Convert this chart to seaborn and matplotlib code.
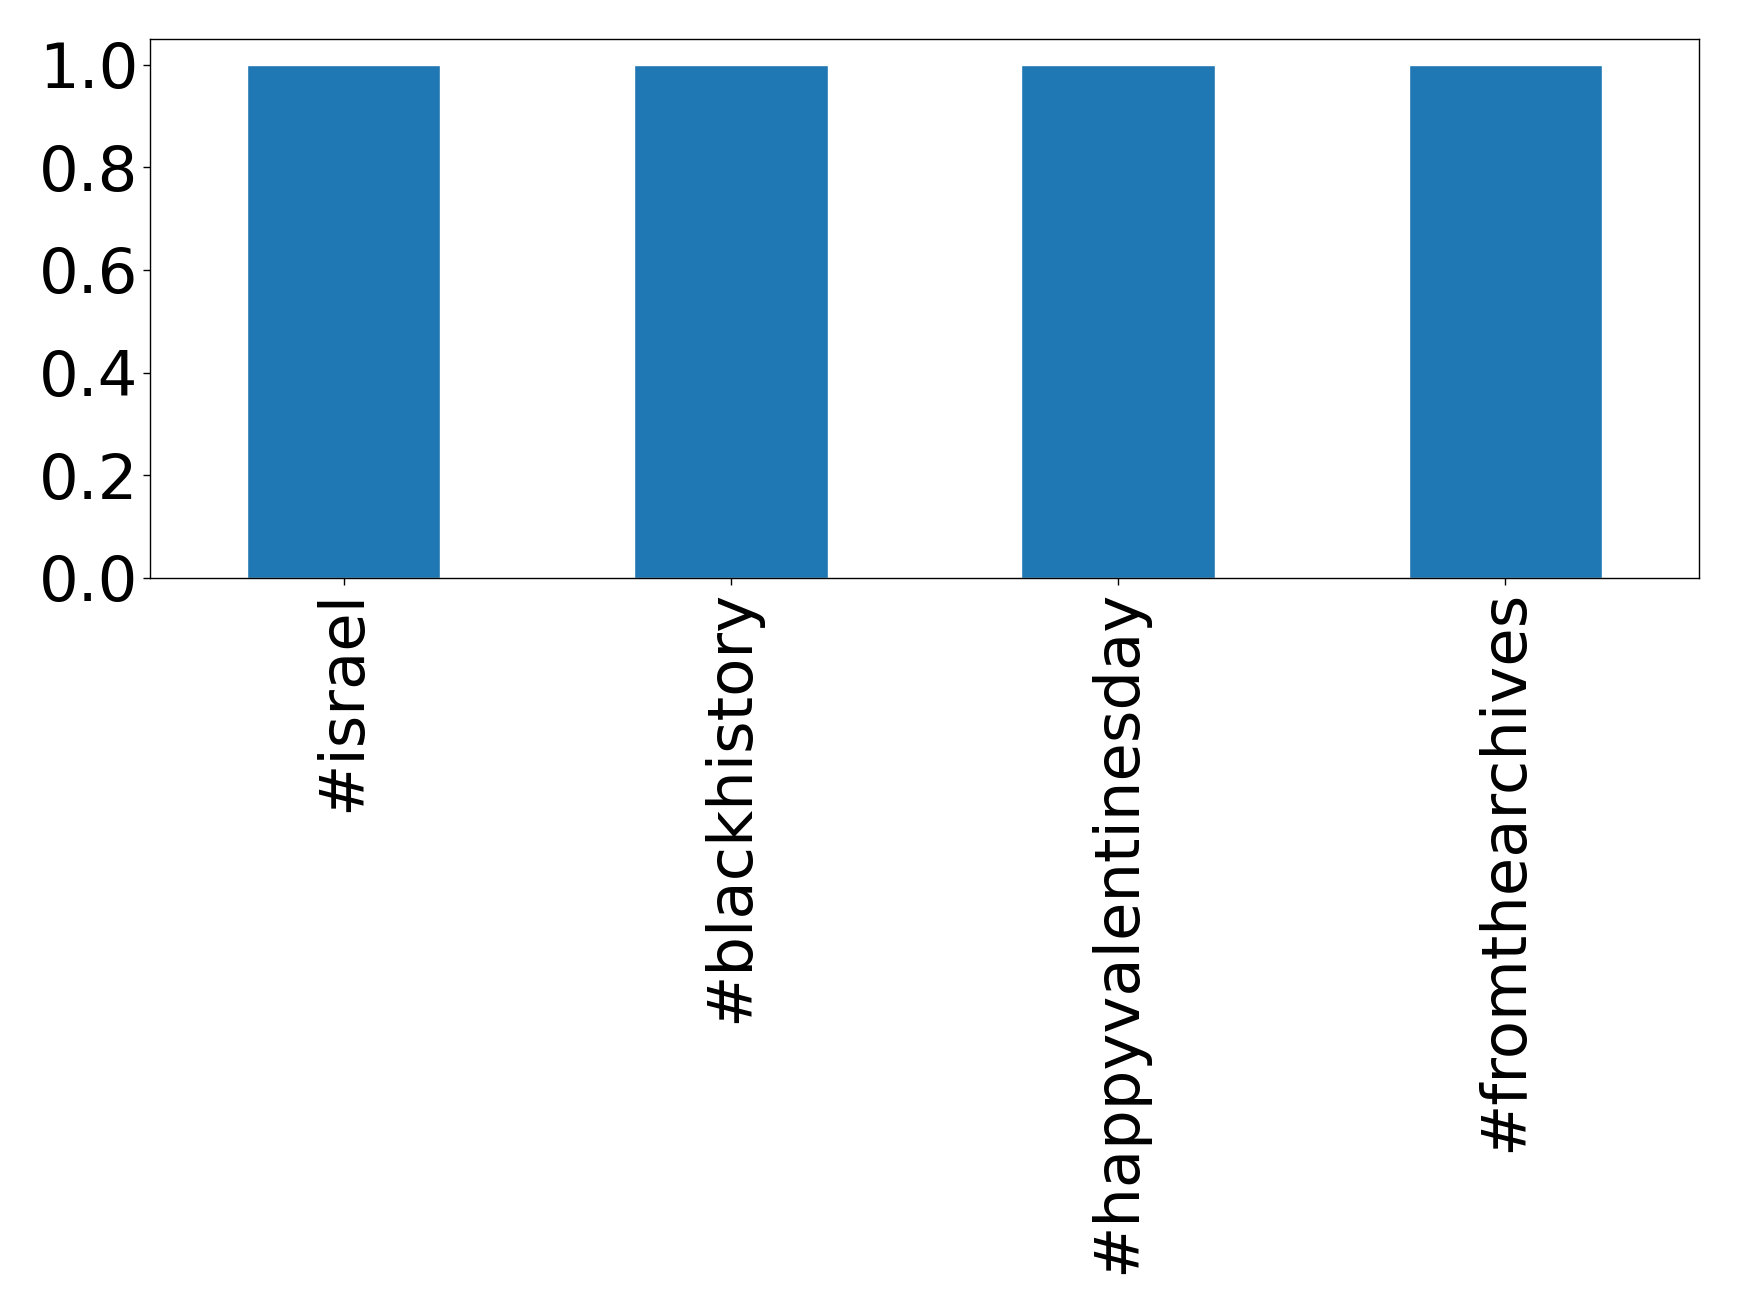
import matplotlib
matplotlib.use("Agg")
import matplotlib.pyplot as plt
import seaborn as sns
import pandas as pd

# hashtag counts
hashtags = ['#israel', '#blackhistory', '#happyvalentinesday', '#fromthearchives']
counts = [1, 1, 1, 1]

df = pd.DataFrame({'hashtag': hashtags, 'count': counts})

sns.set_style('white')
plt.rcParams['font.family'] = ['DejaVu Sans']

fig, ax = plt.subplots(figsize=(17.39, 13.12), dpi=100)
fig.subplots_adjust(left=150 / 1739, right=1699 / 1739, top=1 - 39 / 1312, bottom=1 - 578 / 1312)

sns.barplot(data=df, x='hashtag', y='count', color='#1f77b4', saturation=1,
            width=0.5, ax=ax)

ax.set_xlim(-0.5, len(hashtags) - 0.5)
ax.set_xlabel('')
ax.set_ylabel('')
ax.set_yticks([0.0, 0.2, 0.4, 0.6, 0.8, 1.0])
ax.set_yticklabels(['0.0', '0.2', '0.4', '0.6', '0.8', '1.0'])
ax.tick_params(axis='both', labelsize=45, length=5, width=1, color='black',
               labelcolor='black', left=True, bottom=True)
plt.setp(ax.get_xticklabels(), rotation=90)
for spine in ax.spines.values():
    spine.set_color('black')
    spine.set_linewidth(1)

fig.savefig('out.png', dpi=100)
